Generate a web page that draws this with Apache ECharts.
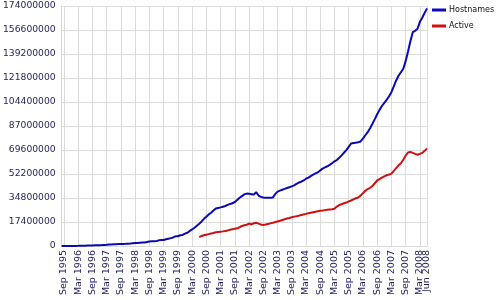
<!DOCTYPE html>
<html><head><meta charset="utf-8">
<script src="https://cdn.jsdelivr.net/npm/echarts@6/dist/echarts.min.js"></script>
<style>html,body{margin:0;padding:0;background:#fff}#c{width:500px;height:300px}</style>
</head><body><div id="c"></div>
<script>
// Month names and years for the category axis (monthly, Aug 1995 .. Jun 2008)
const monthNames = ['Jan','Feb','Mar','Apr','May','Jun','Jul','Aug','Sep','Oct','Nov','Dec'];
const firstYear = 1995, firstMonth = 7;   // Aug 1995
const lastYear = 2008, lastMonth = 5;     // Jun 2008

// Y axis tick values
const yTicks = [0,17400000,34800000,52200000,69600000,87000000,104400000,121800000,139200000,156600000,174000000];

// Hostnames, millions, monthly from Aug 1995
const hostnamesM = [
  0.019,0.022,0.026,0.035,0.05,
  0.07,0.08,0.1,0.13,0.17,0.23,0.3,0.34,0.4,0.46,0.5,0.6,
  0.65,0.74,0.86,1.0,1.1,1.2,1.27,1.39,1.46,1.53,1.6,1.68,
  1.83,2.0,2.1,2.2,2.35,2.5,2.6,2.9,3.2,3.4,3.5,3.6,
  4.1,4.3,4.3,4.9,5.3,5.7,6.2,7.0,7.1,7.8,8.0,9.0,
  9.6,10.9,12.0,13.2,14.7,16.2,17.8,19.7,21.2,22.9,24.1,25.7,
  27.2,27.6,28.0,28.5,29.0,29.8,30.5,31.0,31.9,33.4,35.0,36.2,
  37.4,38.0,37.8,37.6,37.4,39.0,36.6,35.6,35.2,35.0,35.0,35.0,
  35.1,37.6,39.4,40.1,40.8,41.4,42.0,42.6,43.2,44.0,45.1,46.0,
  46.6,47.5,48.8,49.6,50.7,51.7,52.6,53.4,54.8,56.1,57.0,57.8,
  58.8,60.0,61.4,62.3,64.0,65.7,67.6,69.5,71.9,74.3,74.6,74.9,
  75.2,75.8,77.8,80.3,82.5,85.4,88.6,92.0,95.5,98.7,101.5,103.8,
  106.0,108.5,111.5,115.8,120.0,123.4,126.0,128.5,134.0,141.0,148.5,155.0,
  156.0,157.5,162.5,165.5,169.0,172.3
];

// Active sites, millions, monthly from Jun 2000
const activeStartLabel = 'Jun 2000';
const activeM = [
  6.5,7.3,7.8,8.2,8.6,9.0,9.4,
  10.0,10.2,10.4,10.6,10.9,11.3,11.8,12.2,12.5,12.8,13.6,14.5,
  15.0,15.4,16.3,15.6,16.5,16.9,16.2,15.6,15.3,15.6,16.0,16.4,
  16.8,17.4,17.8,18.3,18.9,19.4,19.9,20.3,20.8,21.3,21.6,22.0,
  22.5,22.9,23.3,23.7,24.1,24.5,24.9,25.2,25.5,25.7,26.0,26.3,
  26.5,26.6,27.0,28.6,29.7,30.3,31.0,31.5,32.3,33.0,33.8,34.6,
  35.2,36.5,38.3,40.0,41.3,42.2,43.5,45.5,47.5,48.5,49.5,50.5,
  51.3,51.8,52.5,54.5,56.5,58.5,60.0,62.5,65.5,67.8,68.2,67.5,
  66.8,66.2,66.8,67.5,69.0,70.8
];

const categories = [];
for (let y = firstYear, m = firstMonth; y < lastYear || (y === lastYear && m <= lastMonth); ) {
  categories.push(monthNames[m] + ' ' + y);
  m++; if (m > 11) { m = 0; y++; }
}
const lastLabel = categories[categories.length - 1];
const showSepMar = (idx, val) => val.startsWith('Sep') || val.startsWith('Mar');
const showLast = (idx, val) => val === lastLabel;
const showTick = (idx, val) => showSepMar(idx, val) || showLast(idx, val);

const startIdx = categories.indexOf(activeStartLabel);
const hostData = hostnamesM.map((v, i) => [categories[i], Math.round(v * 1e6)]);
const activeData = activeM.map((v, k) => [categories[startIdx + k], Math.round(v * 1e6)]);

const txt = '#1e1e5a';
const labelBase = {rotate: 90, fontSize: 9.5, color: txt, margin: 4, fontFamily: 'DejaVu Sans', hideOverlap: false};
const chart = echarts.init(document.getElementById('c'), null, {renderer: 'canvas'});
chart.setOption({
  animation: false,
  backgroundColor: '#ffffff',
  textStyle: {fontFamily: 'DejaVu Sans'},
  grid: {left: 60, right: 73, top: 6, bottom: 54, containLabel: false},
  legend: {
    orient: 'vertical', left: 432, top: 6, itemGap: 8, padding: 0,
    itemWidth: 14, itemHeight: 3, icon: 'rect',
    textStyle: {fontFamily: 'DejaVu Sans', fontSize: 8, color: '#111', padding: [0,0,0,-2]},
    data: ['Hostnames', 'Active']
  },
  xAxis: [{
    type: 'category', data: categories, boundaryGap: false, position: 'bottom',
    axisLine: {show: true, lineStyle: {color: '#d8d8d8', width: 1}},
    axisTick: {show: false},
    axisLabel: Object.assign({interval: showSepMar}, labelBase),
    splitLine: {show: true, interval: showTick, lineStyle: {color: '#dcdcdc', width: 1}}
  }, {
    type: 'category', data: categories, boundaryGap: false, position: 'bottom',
    axisLine: {show: false}, axisTick: {show: false}, splitLine: {show: false},
    axisLabel: Object.assign({interval: showLast}, labelBase)
  }],
  yAxis: {
    type: 'value', min: yTicks[0], max: yTicks[yTicks.length - 1], interval: yTicks[1] - yTicks[0],
    axisLine: {show: true, lineStyle: {color: '#d8d8d8', width: 1}},
    axisTick: {show: false},
    axisLabel: {fontSize: 9.2, color: txt, margin: 6, fontFamily: 'DejaVu Sans',
      formatter: v => String(Math.round(v))},
    splitLine: {show: true, lineStyle: {color: '#dcdcdc', width: 1}}
  },
  series: [
    {name: 'Hostnames', type: 'line', data: hostData, showSymbol: false, symbol: 'none',
     lineStyle: {color: '#0a0ab4', width: 2}, itemStyle: {color: '#0a0ab4'}, z: 3},
    {name: 'Active', type: 'line', data: activeData, showSymbol: false, symbol: 'none',
     lineStyle: {color: '#d01010', width: 2}, itemStyle: {color: '#d01010'}, z: 2}
  ]
});
</script></body></html>
